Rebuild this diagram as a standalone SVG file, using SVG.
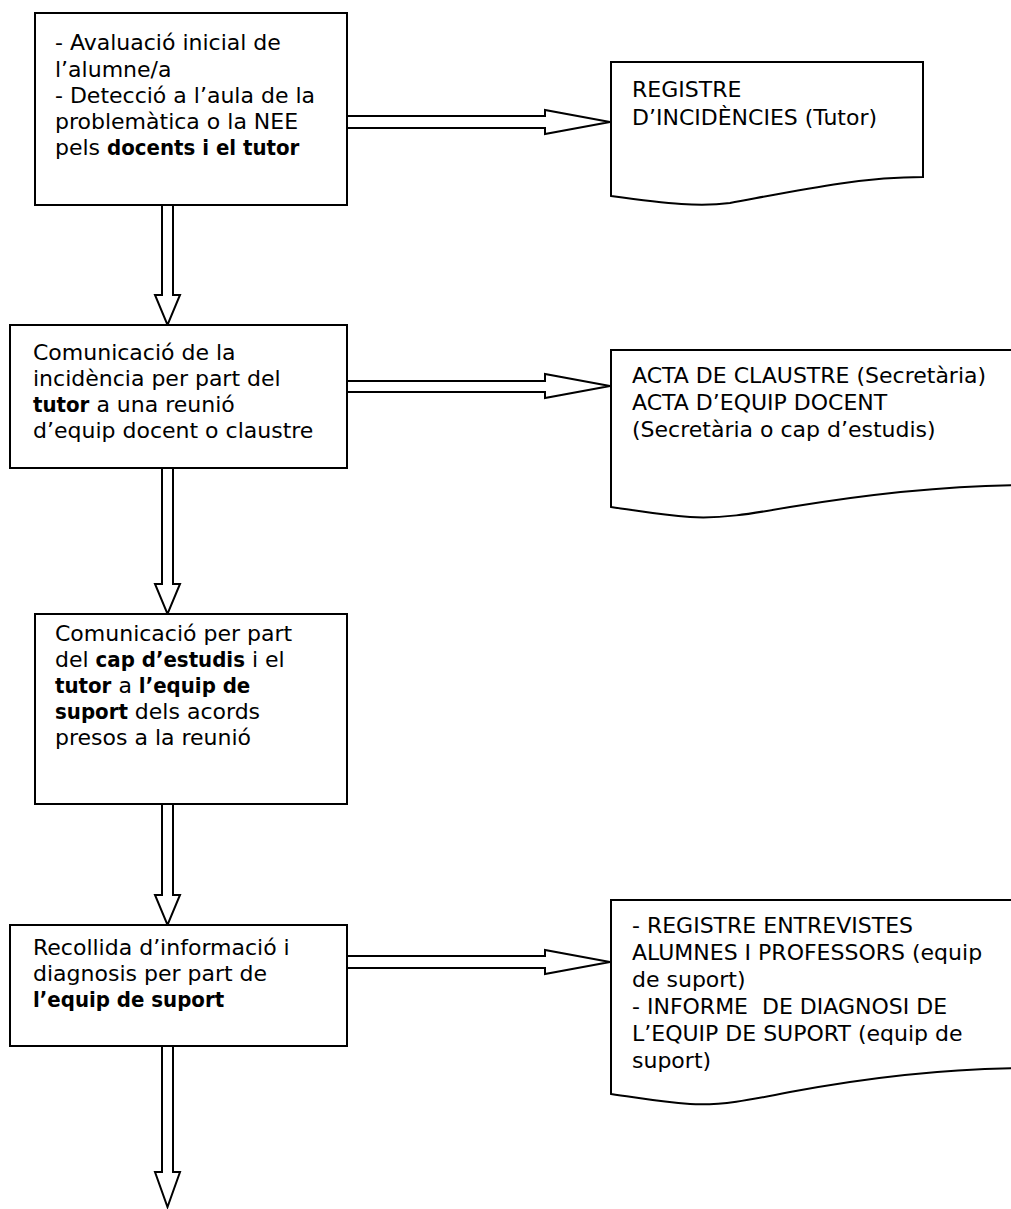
<svg xmlns="http://www.w3.org/2000/svg" width="1011" height="1209" viewBox="0 0 1011 1209">
<style>
.box{fill:#fff;stroke:#000;stroke-width:2}
.doc{fill:#fff;stroke:#000;stroke-width:2}
.arr{fill:#fff;stroke:#000;stroke-width:2;stroke-linejoin:miter}
text{font-family:"DejaVu Sans",sans-serif;font-size:22px;fill:#000;white-space:pre}
.b{font-weight:bold;font-stretch:condensed}
</style>
<rect width="1011" height="1209" fill="#fff"/>
<g id="connectors">
<polygon class="arr" points="347,116 545,116 545,110 610,122 545,134 545,128 347,128"/>
<polygon class="arr" points="347,381 545,381 545,374 610,386 545,398 545,392 347,392"/>
<polygon class="arr" points="347,956 545,956 545,950 610,962 545,974 545,968 347,968"/>
<polygon class="arr" points="162,205 173,205 173,295 180,295 167.5,325 155,295 162,295"/>
<polygon class="arr" points="162,468 173,468 173,584 180,584 167.5,614 155,584 162,584"/>
<polygon class="arr" points="162,804 173,804 173,895 180,895 167.5,925 155,895 162,895"/>
<polygon class="arr" points="162,1046 173,1046 173,1172 180,1172 167.5,1207 155,1172 162,1172"/>
</g>
<g id="n1">
<rect class="box" x="35" y="13" width="312" height="192"/>
<text x="55" y="50">- Avaluació inicial de<tspan x="55" dy="26.5">l’alumne/a</tspan><tspan x="55" dy="26.5">- Detecció a l’aula de la</tspan><tspan x="55" dy="26">problemàtica o la NEE</tspan><tspan x="55" dy="26">pels <tspan class="b">docents i el tutor</tspan></tspan></text>
</g>
<g id="d1">
<path class="doc" d="M611,62 H923 V177 C860,177 800,190 730,203 C700,207 670,204 611,196 Z"/>
<text x="632" y="97">REGISTRE<tspan x="632" dy="28">D’INCIDÈNCIES (Tutor)</tspan></text>
</g>
<g id="n2">
<rect class="box" x="10" y="325" width="337" height="143"/>
<text x="33" y="360">Comunicació de la<tspan x="33" dy="26">incidència per part del</tspan><tspan x="33" dy="26"><tspan class="b">tutor</tspan> a una reunió</tspan><tspan x="33" dy="26">d’equip docent o claustre</tspan></text>
</g>
<g id="d2">
<path class="doc" d="M611,350 H1030 V485 C960,485 880,492 790,507 C750,514 720,519 690,517 C660,515 640,511 611,507 Z"/>
<text x="632" y="383">ACTA DE CLAUSTRE (Secretària)<tspan x="632" dy="27">ACTA D’EQUIP DOCENT</tspan><tspan x="632" dy="27">(Secretària o cap d’estudis)</tspan></text>
</g>
<g id="n3">
<rect class="box" x="35" y="614" width="312" height="190"/>
<text x="55" y="641">Comunicació per part<tspan x="55" dy="26">del <tspan class="b">cap d’estudis</tspan> i el</tspan><tspan x="55" dy="26"><tspan class="b">tutor</tspan> a <tspan class="b">l’equip de</tspan></tspan><tspan x="55" dy="26"><tspan class="b">suport</tspan> dels acords</tspan><tspan x="55" dy="26">presos a la reunió</tspan></text>
</g>
<g id="n4">
<rect class="box" x="10" y="925" width="337" height="121"/>
<text x="33" y="955">Recollida d’informació i<tspan x="33" dy="26">diagnosis per part de</tspan><tspan x="33" dy="26" class="b">l’equip de suport</tspan></text>
</g>
<g id="d4">
<path class="doc" d="M611,900 H1030 V1068 C960,1068 880,1075 790,1092 C750,1100 720,1106 690,1104 C660,1102 640,1098 611,1094 Z"/>
<text x="632" y="933">- REGISTRE ENTREVISTES<tspan x="632" dy="27">ALUMNES I PROFESSORS (equip</tspan><tspan x="632" dy="27">de suport)</tspan><tspan x="632" dy="27">- INFORME  DE DIAGNOSI DE</tspan><tspan x="632" dy="27">L’EQUIP DE SUPORT (equip de</tspan><tspan x="632" dy="27">suport)</tspan></text>
</g>
</svg>
